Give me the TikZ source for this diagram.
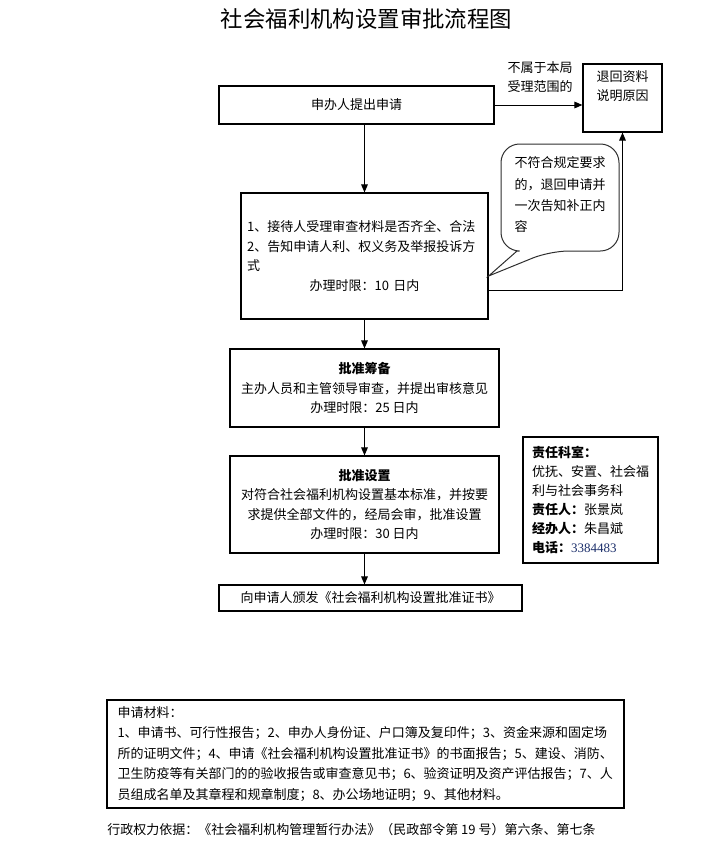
\documentclass[tikz,border=0pt]{standalone}
\usepackage{fontspec}
\setmainfont{Noto Sans CJK SC}
\newfontfamily\telfont{Liberation Serif}
\usepackage{xcolor}
\usepackage{tikz}
\usetikzlibrary{arrows.meta,calc}
\definecolor{ink}{HTML}{000000}
\definecolor{rim}{HTML}{2E2E2E}
\definecolor{telblue}{HTML}{1C2F6B}
\newcommand{\tel}[1]{{\telfont\color{telblue}#1}}
\tikzset{
  every node/.style={font=\fontsize{9.75}{14.6}\selectfont},
  box/.style={draw=ink,line width=0.9pt,fill=white,align=center,inner sep=0pt},
  ar/.style={-{Triangle[width=5pt,length=6pt]},draw=ink,line width=0.75pt},
  lab/.style={align=center,inner sep=0pt},
  titletext/.style={font=\fontsize{16.8}{20}\selectfont,inner sep=0pt},
}

\begin{document}
\begin{tikzpicture}[x=0.75pt,y=-0.75pt]
\useasboundingbox (0,0) rectangle (713,853);

\node[titletext] (title) at (366.5,19) {社会福利机构设置审批流程图};

\node[box,minimum width=206.25pt,minimum height=28.5pt] (apply) at (356.5,105) {申办人提出申请};
\node[box,minimum width=59.25pt,minimum height=51pt] (back) at (622.5,98) {退回资料\\说明原因\\ \strut};
\node[lab,font=\fontsize{9.75}{14.25}\selectfont] (outscope) at (540,77) {不属于本局\\受理范围的};

\node[box,minimum width=185.25pt,minimum height=94.5pt,text width=176pt,align=left] (check) at (364.5,256)
  {1、接待人受理审查材料是否齐全、合法\\2、告知申请人利、权义务及举报投诉方\\式\\\makebox[\hsize]{办理时限：10 日内}};

\coordinate (tip) at ($(check.east)+(0,20)$);
\draw[rim,line width=0.75pt] (517,251) [rounded corners=14] -- (501,251) -- (501,144) -- (619,144) -- (619,251) -- (550,251) [sharp corners] -- (tip) -- cycle;
\node[lab,align=left,font=\fontsize{9.75}{16}\selectfont] (note) at (560,195) {不符合规定要求\\的，退回申请并\\一次告知补正内\\容};

\node[box,minimum width=201.75pt,minimum height=58.5pt] (prepare) at (364.5,388)
  {\textbf{批准筹备}\\主办人员和主管领导审查，并提出审核意见\\办理时限：25 日内};
\node[box,minimum width=201.75pt,minimum height=72.75pt] (approve) at (364.5,504.5)
  {\textbf{批准设置}\\对符合社会福利机构设置基本标准，并按要\\求提供全部文件的，经局会审，批准设置\\办理时限：30 日内};
\node[box,minimum width=227.25pt,minimum height=19.5pt] (issue) at (370.5,598) {向申请人颁发《社会福利机构设置批准证书》};

\node[box,minimum width=101.25pt,minimum height=94.5pt,align=left,font=\fontsize{9.75}{14.25}\selectfont] (duty) at (590.5,500)
  {\textbf{责任科室：}\\优抚、安置、社会福\\利与社会事务科\\\textbf{责任人：}张景岚\\\textbf{经办人：}朱昌斌\\\textbf{电话：}\tel{3384483}};

\node[box,minimum width=387.75pt,minimum height=81pt,text width=372pt,align=left,font=\fontsize{9.75}{15.4}\selectfont] (material) at (365.5,754)
  {申请材料：\\1、申请书、可行性报告；2、申办人身份证、户口簿及复印件；3、资金来源和固定场\\所的证明文件；4、申请《社会福利机构设置批准证书》的书面报告；5、建设、消防、\\卫生防疫等有关部门的的验收报告或审查意见书；6、验资证明及资产评估报告；7、人\\员组成名单及其章程和规章制度；8、办公场地证明；9、其他材料。};

\node[lab,anchor=west] (basis) at (107,830) {行政权力依据：《社会福利机构管理暂行办法》（民政部令第 19 号）第六条、第七条};

\draw[ar] (apply.east) -- (apply.east -| back.west);
\draw[ar] (apply.south -| check.north) -- (check.north);
\draw[ar] ($(check.east)+(0,34)$) -| (back.south);
\draw[ar] (check.south) -- (prepare.north);
\draw[ar] (prepare.south) -- (approve.north);
\draw[ar] (approve.south) -- (approve.south |- issue.north);
\end{tikzpicture}
\end{document}
